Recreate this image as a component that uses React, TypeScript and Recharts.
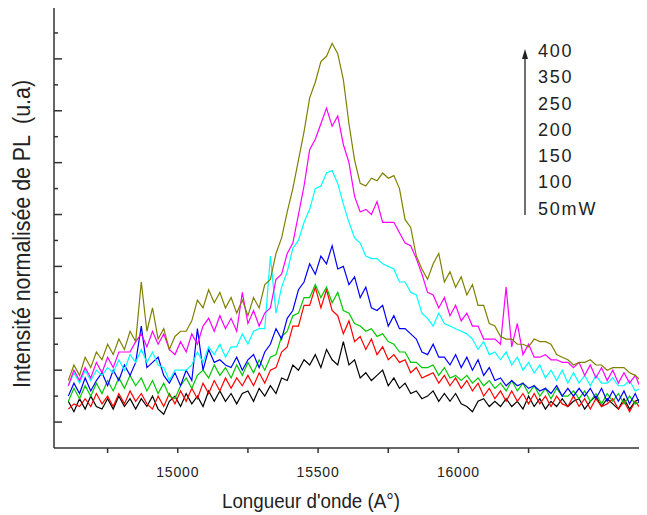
import { LineChart, Line, XAxis, YAxis, ReferenceLine, Legend, Customized } from 'recharts';

// wavelength grid (Å)
const wavelength = [
  14610, 14630, 14650, 14670, 14690, 14710, 14730, 14750, 14770, 14790, 14810, 14830, 14850,
  14870, 14890, 14910, 14930, 14950, 14970, 14990, 15010, 15030, 15050, 15070, 15090, 15110,
  15130, 15150, 15170, 15190, 15210, 15230, 15250, 15270, 15290, 15310, 15330, 15350, 15370,
  15390, 15410, 15430, 15450, 15470, 15490, 15510, 15530, 15550, 15570, 15590, 15610, 15630,
  15650, 15670, 15690, 15710, 15730, 15750, 15770, 15790, 15810, 15830, 15850, 15870, 15890,
  15910, 15930, 15950, 15970, 15990, 16010, 16030, 16050, 16070, 16090, 16110, 16130, 16150,
  16170, 16190, 16210, 16230, 16250, 16270, 16290, 16310, 16330, 16350, 16370, 16390, 16410,
  16430, 16450, 16470, 16490, 16510, 16530, 16550, 16570, 16590, 16610, 16630, 16650, 16670,
];

const pl50 = [
  1.8, 1.4, 1.9, 1.5, 2.0, 1.6, 1.5, 1.9, 1.5, 2.0, 1.6, 1.9, 1.5,
  1.9, 1.6, 2.0, 1.5, 1.3, 1.8, 2.0, 1.6, 2.1, 1.7, 2.0, 1.6, 2.2,
  1.8, 2.2, 1.8, 2.1, 1.7, 2.1, 2.2, 1.8, 2.3, 2.0, 2.4, 2.1, 2.7,
  2.6, 3.2, 3.0, 3.4, 3.2, 3.6, 3.1, 3.8, 3.4, 3.2, 4.1, 3.2, 3.4,
  2.7, 2.9, 2.6, 2.8, 3.0, 2.4, 2.7, 2.3, 2.5, 2.1, 2.2, 1.9, 2.0,
  2.2, 1.8, 2.1, 1.8, 2.1, 1.7, 1.6, 1.4, 1.8, 1.9, 1.6, 1.8, 1.6,
  1.9, 1.6, 1.8, 1.5, 2.0, 1.6, 1.9, 1.5, 1.8, 1.6, 1.9, 1.6, 1.8,
  1.9, 1.5, 1.8, 2.0, 1.6, 1.9, 1.7, 1.5, 1.9, 1.5, 1.8, 1.9, 1.6,
];

const pl100 = [
  1.5, 1.7, 1.6, 1.9, 1.6, 2.1, 1.7, 2.0, 1.6, 2.1, 1.7, 2.2, 1.8,
  2.1, 1.7, 1.5, 2.0, 1.6, 2.1, 1.7, 2.2, 1.8, 2.3, 1.9, 2.5, 2.1,
  2.6, 2.2, 2.7, 2.3, 2.7, 2.4, 2.8, 2.4, 2.9, 2.5, 3.0, 3.1, 3.7,
  3.9, 4.7, 4.7, 5.5, 5.5, 6.2, 5.4, 6.1, 5.3, 5.1, 4.4, 4.9, 4.1,
  4.3, 3.8, 4.2, 3.6, 3.9, 3.4, 3.6, 3.3, 3.4, 2.9, 3.1, 2.7, 2.8,
  2.9, 2.5, 2.8, 2.4, 2.7, 2.3, 2.6, 2.2, 2.5, 2.0, 2.3, 1.9, 2.2,
  1.8, 2.2, 1.8, 2.1, 1.7, 2.1, 1.7, 2.0, 1.6, 2.0, 1.7, 1.6, 2.0,
  1.6, 1.9, 1.5, 1.9, 1.6, 1.7, 1.9, 1.5, 1.8, 1.4, 1.8, 1.5, 1.8,
];

const pl150 = [
  1.8, 2.3, 1.9, 2.4, 2.0, 2.5, 2.1, 2.6, 2.2, 2.7, 2.3, 2.8, 2.4,
  2.7, 2.2, 2.6, 2.1, 2.5, 2.0, 1.9, 2.4, 2.7, 2.3, 2.8, 3.0, 2.7,
  3.2, 2.8, 3.1, 2.7, 3.2, 2.8, 3.3, 2.9, 3.4, 3.0, 3.5, 3.6, 4.3,
  4.5, 5.1, 5.2, 5.8, 5.8, 6.3, 5.8, 6.2, 5.6, 6.0, 5.3, 5.2, 4.8,
  4.7, 4.5, 4.6, 4.3, 4.4, 4.1, 4.0, 3.7, 3.7, 3.3, 3.3, 3.1, 3.1,
  3.2, 2.8, 3.1, 2.7, 2.8, 2.6, 2.8, 2.5, 2.7, 2.4, 2.6, 2.3, 2.5,
  2.2, 2.6, 2.2, 2.5, 2.1, 2.4, 2.0, 2.3, 1.9, 2.3, 2.0, 2.0, 2.2,
  1.9, 2.2, 1.8, 2.1, 1.7, 2.1, 1.8, 2.1, 1.7, 2.0, 1.7, 1.8, 1.8,
];

const pl200 = [
  2.0, 2.5, 2.1, 2.7, 2.2, 2.6, 2.9, 2.4, 3.0, 2.6, 3.2, 2.8, 3.3,
  4.7, 3.1, 3.3, 3.5, 2.8, 2.5, 2.9, 2.4, 3.0, 2.6, 4.6, 3.0, 3.8,
  3.3, 3.4, 3.2, 3.1, 3.5, 3.0, 3.4, 3.6, 3.1, 3.7, 4.0, 4.6, 4.2,
  5.0, 5.3, 6.1, 6.4, 7.1, 6.7, 7.4, 7.1, 7.8, 6.9, 7.0, 6.3, 6.6,
  5.8, 6.2, 5.4, 5.3, 5.5, 4.7, 5.1, 4.6, 4.6, 4.4, 4.2, 3.7, 3.6,
  4.0, 3.5, 3.5, 3.2, 3.6, 3.1, 3.5, 3.0, 3.4, 2.8, 3.1, 2.6, 2.7,
  2.4, 2.6, 2.4, 2.5, 2.3, 2.4, 2.2, 2.3, 2.1, 2.4, 2.0, 2.3, 2.0,
  2.3, 2.0, 2.3, 1.9, 2.3, 1.8, 2.2, 1.8, 2.2, 1.7, 2.1, 1.6, 1.9,
];

const pl250 = [
  2.4, 2.9, 2.5, 3.0, 2.6, 3.0, 2.8, 3.1, 2.9, 3.4, 3.0, 3.6, 3.3,
  3.8, 3.3, 3.7, 3.2, 3.1, 2.6, 3.0, 3.0, 3.0, 3.2, 3.7, 3.3, 3.9,
  3.6, 4.0, 3.5, 3.9, 3.9, 4.4, 4.0, 4.5, 4.6, 4.6, 7.4, 5.2, 6.2,
  6.8, 7.7, 8.0, 8.7, 9.2, 10.0, 10.1, 10.6, 10.7, 10.2, 9.4, 8.7, 8.1,
  7.9, 7.4, 7.3, 7.3, 7.1, 7.0, 6.9, 6.4, 6.4, 6.0, 5.9, 5.2, 5.0,
  4.7, 5.2, 4.8, 4.7, 4.6, 4.5, 4.4, 4.2, 3.8, 4.1, 3.6, 3.7, 3.4,
  3.7, 3.2, 3.5, 3.0, 3.3, 2.9, 3.2, 2.7, 3.0, 2.6, 3.0, 2.5, 2.9,
  2.5, 2.8, 2.4, 2.8, 2.5, 2.5, 2.7, 2.4, 2.4, 2.6, 2.2, 2.3, 2.2,
];

const pl350 = [
  2.4, 3.0, 2.6, 3.1, 2.7, 3.3, 2.9, 3.5, 3.1, 3.7, 3.7, 3.7, 4.1,
  4.4, 3.9, 4.5, 4.0, 4.4, 3.8, 3.6, 4.1, 3.7, 4.4, 4.0, 4.7, 5.0,
  4.5, 5.1, 4.6, 5.0, 4.5, 6.0, 4.8, 5.3, 4.7, 5.2, 5.4, 6.5, 6.7,
  7.5, 7.9, 9.0, 10.1, 11.5, 11.9, 12.5, 13.1, 12.4, 12.8, 11.7, 11.0, 9.7,
  9.1, 9.2, 9.0, 9.5, 8.7, 8.7, 8.7, 8.3, 7.9, 7.8, 7.3, 6.7, 6.0,
  5.9, 5.4, 5.8, 5.1, 5.5, 4.9, 5.2, 4.7, 4.7, 4.2, 4.2, 4.2, 4.0,
  6.2, 3.9, 4.8, 3.6, 4.0, 3.5, 3.5, 3.6, 3.4, 3.4, 3.3, 3.3, 3.1,
  3.3, 2.8, 3.2, 2.7, 3.1, 2.6, 3.0, 2.5, 2.9, 2.5, 2.8, 2.3, 2.6,
];

const pl400 = [
  2.6, 3.2, 2.8, 3.5, 3.1, 3.7, 3.4, 4.0, 3.6, 4.2, 3.8, 4.5, 4.1,
  6.4, 4.5, 5.4, 4.2, 4.6, 3.8, 4.3, 4.5, 4.5, 4.9, 5.7, 5.4, 6.1,
  5.6, 6.0, 5.4, 5.8, 5.2, 5.7, 5.1, 5.8, 5.4, 6.3, 6.5, 7.5, 8.1,
  9.1, 10.0, 11.1, 12.2, 13.5, 14.1, 14.9, 15.1, 15.6, 15.2, 14.2, 12.5, 11.1,
  10.2, 10.1, 10.4, 10.3, 10.6, 10.4, 10.5, 10.0, 8.8, 8.5, 7.4, 6.9, 6.5,
  7.1, 7.5, 6.4, 6.8, 6.2, 6.6, 5.9, 6.3, 5.5, 5.5, 4.8, 4.7, 4.3,
  4.2, 4.2, 4.0, 4.0, 3.9, 4.2, 4.1, 4.1, 4.0, 3.6, 3.5, 3.4, 3.2,
  3.3, 3.3, 3.4, 3.2, 3.2, 3.0, 3.1, 3.1, 3.1, 2.9, 2.8, 2.6, 2.5,
];

const powerLabels = ['50mW', '100', '150', '200', '250', '350', '400'];
const seriesColors = ['#000000', '#ff0000', '#00c800', '#0000ff', '#00ffff', '#ff00ff', '#808000'];
const xTicks = [14750, 15000, 15250, 15500, 15750, 16000, 16250];
const yTicks = [1, 2, 3, 4, 5, 6, 7, 8, 9, 10, 11, 12, 13, 14, 15, 16];

const series = [pl50, pl100, pl150, pl200, pl250, pl350, pl400];

const data = wavelength.map((w, i) => {
  const row: Record<string, number> = { w };
  series.forEach((s, k) => {
    row['s' + k] = s[i];
  });
  return row;
});

const FONT = '"Liberation Sans", Arial, sans-serif';
const AXIS = '#333';

function YTick({ x, y, payload }: any) {
  // odd ticks are the long ones
  const len = payload.value % 2 === 1 ? 8 : 4;
  return <line x1={x} x2={x + len} y1={y} y2={y} stroke={AXIS} strokeWidth={1.5} />;
}

function PowerLegend() {
  const rows = [...powerLabels].reverse();
  return (
    <div style={{ display: 'flex', fontFamily: FONT, fontSize: 18, letterSpacing: 1.8, color: '#222' }}>
      <svg width={14} height={180}>
        <line x1={7} y1={177} x2={7} y2={18} stroke="#222" strokeWidth={1.3} />
        <polygon points="7,11 4,21 10,21" fill="#222" />
      </svg>
      <div style={{ marginLeft: 6 }}>
        {rows.map((l) => (
          <div key={l} style={{ height: 26.3, lineHeight: '26.3px' }}>{l}</div>
        ))}
      </div>
    </div>
  );
}

function Titles() {
  return (
    <g fontFamily={FONT} fill="#222">
      <text x={311} y={508} fontSize={20} textAnchor="middle" textLength={178} lengthAdjust="spacingAndGlyphs">
        Longueur d'onde (A°)
      </text>
      <text
        transform="translate(22,234) rotate(-90)"
        fontSize={23}
        textAnchor="middle"
        dy="0.35em"
        textLength={308}
        lengthAdjust="spacingAndGlyphs"
        style={{ whiteSpace: 'pre' }}
      >
        {'Intensité normalisée de PL  (u.a)'}
      </text>
    </g>
  );
}

export default function App() {
  return (
    <div style={{ marginLeft: -8, marginTop: -8, width: 647, height: 515, background: '#fff' }}>
      <LineChart width={647} height={515} data={data} margin={{ top: 7, right: 0, left: 0, bottom: 0 }}>
        <XAxis
          dataKey="w"
          type="number"
          domain={[14559, 16672]}
          allowDataOverflow
          ticks={xTicks}
          tickFormatter={(v) => (v % 500 === 0 ? String(v) : '')}
          height={67}
          tickSize={5}
          tickMargin={14}
          axisLine={{ stroke: AXIS, strokeWidth: 1.5 }}
          tickLine={{ stroke: AXIS, strokeWidth: 1.5 }}
          tick={{ fontSize: 14, fill: '#222', fontFamily: FONT, letterSpacing: 0.8 }}
        />
        <YAxis
          type="number"
          domain={[0, 17]}
          ticks={yTicks}
          width={54}
          tickSize={0}
          tickMargin={0}
          tickLine={false}
          axisLine={{ stroke: AXIS, strokeWidth: 1.5 }}
          tick={(p: any) => <YTick {...p} />}
        />
        <ReferenceLine y={17} stroke={AXIS} strokeWidth={1.5} />
        {series.map((_, k) => (
          <Line
            key={k}
            dataKey={'s' + k}
            name={powerLabels[k]}
            type="linear"
            stroke={seriesColors[k]}
            strokeWidth={1.2}
            dot={false}
            isAnimationActive={false}
          />
        ))}
        <Legend
          layout="vertical"
          align="center"
          verticalAlign="middle"
          content={() => <PowerLegend />}
          wrapperStyle={{ left: 518, top: 38, width: 120, height: 190 }}
        />
        <Customized component={Titles} />
      </LineChart>
    </div>
  );
}
